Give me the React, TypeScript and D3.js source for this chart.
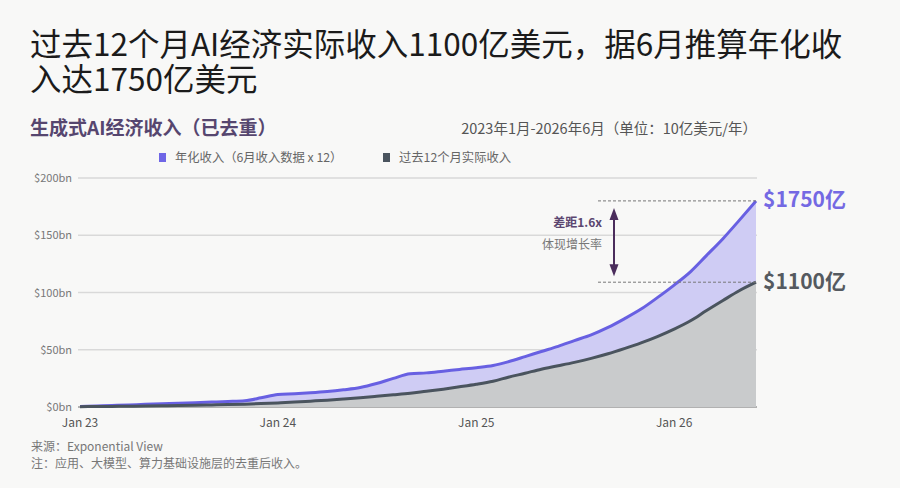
import { useEffect, useRef } from "react"
import * as d3 from "d3"

// monthly, Jan 2023 - Jun 2026 (values in $bn)
const months = d3.timeMonth.range(new Date(2023, 0, 1), new Date(2026, 6, 1))

const annualized = [
  0.5, 0.9, 1.3, 1.8, 2.3, 2.8, 3.3, 3.8, 4.3, 4.8, 5.5, 8.0,
  11.0, 11.6, 12.4, 13.5, 15.0, 17.0, 20.5, 25.0, 29.0, 29.8, 31.3, 32.8,
  34.3, 36.2, 39.5, 44.0, 48.5, 53.0, 58.0, 63.0, 69.5, 77.0, 85.5, 95.5,
  106.5, 118.5, 132.0, 147.0, 163.0, 180.0,
]

const trailing12 = [
  0.3, 0.4, 0.5, 0.7, 0.9, 1.1, 1.3, 1.5, 1.8, 2.1, 2.5, 3.0,
  3.6, 4.3, 5.1, 6.0, 7.0, 8.1, 9.3, 10.6, 12.0, 13.8, 15.6, 17.6,
  19.8, 22.5, 26.0, 29.5, 33.0, 36.0, 39.0, 42.5, 46.5, 51.0, 56.0, 61.5,
  68.0, 75.5, 84.0, 93.0, 101.5, 109.0,
]

const yTicks = [0, 50, 100, 150, 200]
const xTicks = [new Date(2023, 0, 1), new Date(2024, 0, 1), new Date(2025, 0, 1), new Date(2026, 0, 1)]

const titleLines = ["过去12个月AI经济实际收入1100亿美元，据6月推算年化收", "入达1750亿美元"]
const subtitle = "生成式AI经济收入（已去重）"
const rangeNote = "2023年1月-2026年6月（单位：10亿美元/年）"
const legendItems = [
  { label: "年化收入（6月收入数据 x 12）", color: "#6f66e6" },
  { label: "过去12个月实际收入", color: "#4a545e" },
]
const endLabels = ["$1750亿", "$1100亿"]
const notes = ["来源：Exponential View", "注：应用、大模型、算力基础设施层的去重后收入。"]

const FONT = "'Noto Sans CJK SC', 'Noto Sans', sans-serif"

export default function App() {
  const svgRef = useRef<SVGSVGElement>(null)

  useEffect(() => {
    if (!svgRef.current) return
    document.body.style.margin = "0"
    document.body.style.background = "#f8f8f7"

    const svg = d3.select(svgRef.current)
    svg.selectAll("*").remove()

    const width = 900
    const height = 488
    const margin = { top: 178, right: 144, bottom: 81, left: 80 }

    svg.append("rect").attr("width", width).attr("height", height).attr("fill", "#f8f8f7")

    const x = d3
      .scaleTime()
      .domain([months[0], months[months.length - 1]])
      .range([margin.left, width - margin.right])

    const y = d3
      .scaleLinear()
      .domain([0, 200])
      .range([height - margin.bottom, margin.top])

    // Title
    titleLines.forEach((t, i) => {
      svg
        .append("text")
        .attr("x", 30)
        .attr("y", 56 + i * 35)
        .attr("font-family", FONT)
        .attr("font-size", 31.5)
        .attr("fill", "#1b1b1b")
        .text(t)
    })

    svg
      .append("text")
      .attr("x", 30)
      .attr("y", 135)
      .attr("font-family", FONT)
      .attr("font-size", 19)
      .attr("font-weight", 700)
      .attr("fill", "#56466f")
      .text(subtitle)

    svg
      .append("text")
      .attr("x", 757)
      .attr("y", 134)
      .attr("text-anchor", "end")
      .attr("font-family", FONT)
      .attr("font-size", 14.5)
      .attr("fill", "#555")
      .text(rangeNote)

    // Legend
    const legendX = [159, 383]
    legendItems.forEach((item, i) => {
      const g = svg.append("g").attr("transform", `translate(${legendX[i]},158)`)
      g.append("rect").attr("x", 0).attr("y", -5).attr("width", 7).attr("height", 9).attr("fill", item.color)
      g.append("text")
        .attr("x", 16)
        .attr("y", 4)
        .attr("font-family", FONT)
        .attr("font-size", 12.3)
        .attr("fill", "#666")
        .text(item.label)
    })

    // Grid + y labels
    yTicks.forEach((t) => {
      svg
        .append("line")
        .attr("x1", margin.left - 2)
        .attr("x2", width - margin.right + 1)
        .attr("y1", y(t))
        .attr("y2", y(t))
        .attr("stroke", t === 0 ? "#9a9a9a" : "#d9d9d9")
        .attr("stroke-width", 1.5)
      svg
        .append("text")
        .attr("x", margin.left - 8)
        .attr("y", y(t) + 4)
        .attr("text-anchor", "end")
        .attr("font-family", FONT)
        .attr("font-size", 11)
        .attr("fill", "#777")
        .text(`$${t}bn`)
    })

    // Areas
    const areaA = d3
      .area<number>()
      .x((_, i) => x(months[i]))
      .y0(y(0))
      .y1((d) => y(d))
      .curve(d3.curveMonotoneX)
    const lineGen = d3
      .line<number>()
      .x((_, i) => x(months[i]))
      .y((d) => y(d))
      .curve(d3.curveMonotoneX)

    svg.append("path").datum(annualized).attr("d", areaA).attr("fill", "#cfccf4")
    svg.append("path").datum(trailing12).attr("d", areaA).attr("fill", "#c9cbcc")
    svg
      .append("path")
      .datum(annualized)
      .attr("d", lineGen)
      .attr("fill", "none")
      .attr("stroke", "#6860e2")
      .attr("stroke-width", 3)
    svg
      .append("path")
      .datum(trailing12)
      .attr("d", lineGen)
      .attr("fill", "none")
      .attr("stroke", "#4a545e")
      .attr("stroke-width", 3)

    // X labels
    xTicks.forEach((d) => {
      svg
        .append("text")
        .attr("x", x(d))
        .attr("y", 427)
        .attr("text-anchor", "middle")
        .attr("font-family", FONT)
        .attr("font-size", 12)
        .attr("fill", "#555")
        .text(`Jan ${d3.timeFormat("%y")(d)}`)
    })

    // End annotations
    const last = months.length - 1
    const xEnd = x(months[last])
    const yTop = y(annualized[last])
    const yBot = y(trailing12[last])
    ;[yTop, yBot].forEach((yy) => {
      svg
        .append("line")
        .attr("x1", xEnd - 158)
        .attr("x2", xEnd)
        .attr("y1", yy)
        .attr("y2", yy)
        .attr("stroke", "#777")
        .attr("stroke-width", 1)
        .attr("stroke-dasharray", "3,2")
    })

    svg
      .append("text")
      .attr("x", xEnd + 7)
      .attr("y", yTop + 6)
      .attr("font-family", FONT)
      .attr("font-size", 21)
      .attr("font-weight", 700)
      .attr("fill", "#7469e3")
      .text(endLabels[0])
    svg
      .append("text")
      .attr("x", xEnd + 7)
      .attr("y", yBot + 7)
      .attr("font-family", FONT)
      .attr("font-size", 21)
      .attr("font-weight", 700)
      .attr("fill", "#555a60")
      .text(endLabels[1])

    // double arrow
    const ax = xEnd - 142
    const a1 = yTop + 7
    const a2 = yBot - 6
    svg
      .append("line")
      .attr("x1", ax)
      .attr("x2", ax)
      .attr("y1", a1 + 6)
      .attr("y2", a2 - 6)
      .attr("stroke", "#4b2d5c")
      .attr("stroke-width", 2)
    svg
      .append("path")
      .attr("d", `M${ax},${a1} L${ax - 4.5},${a1 + 12} L${ax + 4.5},${a1 + 12} Z`)
      .attr("fill", "#4b2d5c")
    svg
      .append("path")
      .attr("d", `M${ax},${a2} L${ax - 4.5},${a2 - 12} L${ax + 4.5},${a2 - 12} Z`)
      .attr("fill", "#4b2d5c")

    svg
      .append("text")
      .attr("x", ax - 12)
      .attr("y", 227)
      .attr("text-anchor", "end")
      .attr("font-family", FONT)
      .attr("font-size", 12)
      .attr("font-weight", 700)
      .attr("fill", "#5b4670")
      .text("差距1.6x")
    svg
      .append("text")
      .attr("x", ax - 12)
      .attr("y", 249)
      .attr("text-anchor", "end")
      .attr("font-family", FONT)
      .attr("font-size", 12)
      .attr("fill", "#777")
      .text("体现增长率")

    // Notes
    notes.forEach((n, i) => {
      svg
        .append("text")
        .attr("x", 31)
        .attr("y", 451 + i * 17)
        .attr("font-family", FONT)
        .attr("font-size", 12)
        .attr("fill", "#777")
        .text(n)
    })
  }, [])

  return <svg ref={svgRef} width={900} height={488} style={{ display: "block" }}></svg>
}
